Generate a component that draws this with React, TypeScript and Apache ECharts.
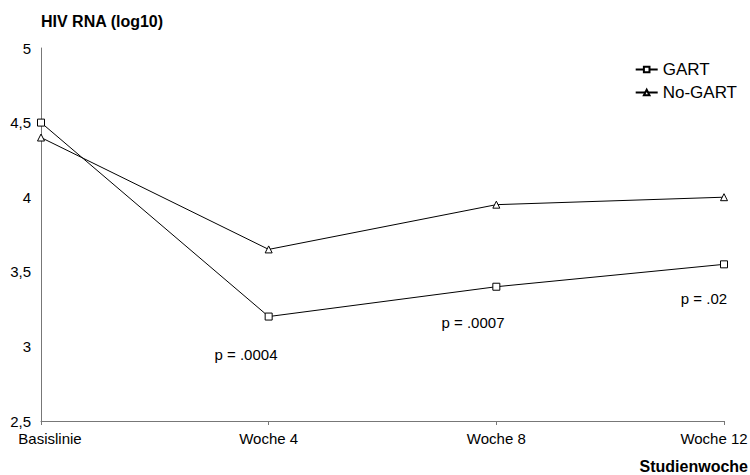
import React, { useEffect, useRef } from "react";
import * as echarts from "echarts";

const categories = ["Basislinie", "Woche 4", "Woche 8", "Woche 12"];
const gart = [4.5, 3.2, 3.4, 3.55];
const noGart = [4.4, 3.65, 3.95, 4.0];
const pLabels = ["p = .0004", "p = .0007", "p = .02"];

const FONT = "Liberation Sans, Arial, Helvetica, sans-serif";

export default function App() {
  const ref = useRef<HTMLDivElement>(null);
  useEffect(() => {
    const chart = echarts.init(ref.current!, null, { renderer: "svg" });
    const lineStyle = { color: "#000", width: 1 };
    const lbl = { fontFamily: FONT, fontSize: 15, color: "#000" };
    chart.setOption({
      animation: false,
      backgroundColor: "#fff",
      textStyle: { fontFamily: FONT },
      grid: { left: 41, right: 26, top: 48, bottom: 54, containLabel: false, outerBoundsMode: "none" },
      title: {
        text: "HIV RNA (log10)",
        left: 36,
        top: 8,
        textStyle: { fontFamily: FONT, fontSize: 16, fontWeight: "bold", color: "#000" },
      },
      legend: {
        right: 8,
        top: 56,
        orient: "vertical",
        itemWidth: 22,
        itemHeight: 7,
        itemGap: 6,
        textStyle: { fontFamily: FONT, fontSize: 17, color: "#000" },
        data: ["GART", "No-GART"],
      },
      xAxis: {
        type: "category",
        data: categories,
        boundaryGap: false,
        axisLine: { lineStyle: { color: "#777", width: 1 } },
        axisTick: { show: true, length: 4, alignWithLabel: true, lineStyle: { color: "#777" } },
        axisLabel: {
          ...lbl,
          margin: 10,
          formatter: (v: string, i: number) =>
            i === 0 ? `{first|${v}}` : i === categories.length - 1 ? `{last|${v}}` : v,
          rich: {
            first: { ...lbl, padding: [0, 0, 0, 18] },
            last: { ...lbl, padding: [0, 20, 0, 0] },
          },
        },
        splitLine: { show: false },
      },
      yAxis: {
        type: "value",
        min: 2.5,
        max: 5,
        interval: 0.5,
        axisLine: { show: true, lineStyle: { color: "#777", width: 1 } },
        axisTick: { show: false },
        axisLabel: {
          ...lbl,
          margin: 10,
          formatter: (v: number) => String(v).replace(".", ","),
        },
        splitLine: { show: false },
      },
      series: [
        {
          name: "GART",
          type: "line",
          data: gart,
          symbol: "rect",
          symbolSize: 7,
          showAllSymbol: true,
          lineStyle,
          itemStyle: { color: "#fff", borderColor: "#000", borderWidth: 1 },
        },
        {
          name: "No-GART",
          type: "line",
          data: noGart,
          symbol: "triangle",
          symbolSize: 7,
          showAllSymbol: true,
          lineStyle,
          itemStyle: { color: "#fff", borderColor: "#000", borderWidth: 1 },
        },
      ],
      graphic: [
        { type: "text", x: 246, y: 354, style: { text: pLabels[0], font: `15px ${FONT}`, fill: "#000", align: "center", verticalAlign: "middle" } },
        { type: "text", x: 473, y: 322, style: { text: pLabels[1], font: `15px ${FONT}`, fill: "#000", align: "center", verticalAlign: "middle" } },
        { type: "text", x: 704, y: 298, style: { text: pLabels[2], font: `15px ${FONT}`, fill: "#000", align: "center", verticalAlign: "middle" } },
        { type: "text", x: 748, y: 466, style: { text: "Studienwoche", font: `bold 16px ${FONT}`, fill: "#000", align: "right", verticalAlign: "middle" } },
      ],
    });
    return () => chart.dispose();
  }, []);
  return <div ref={ref} style={{ width: 750, height: 475, position: "absolute", left: 0, top: 0 }} />;
}
